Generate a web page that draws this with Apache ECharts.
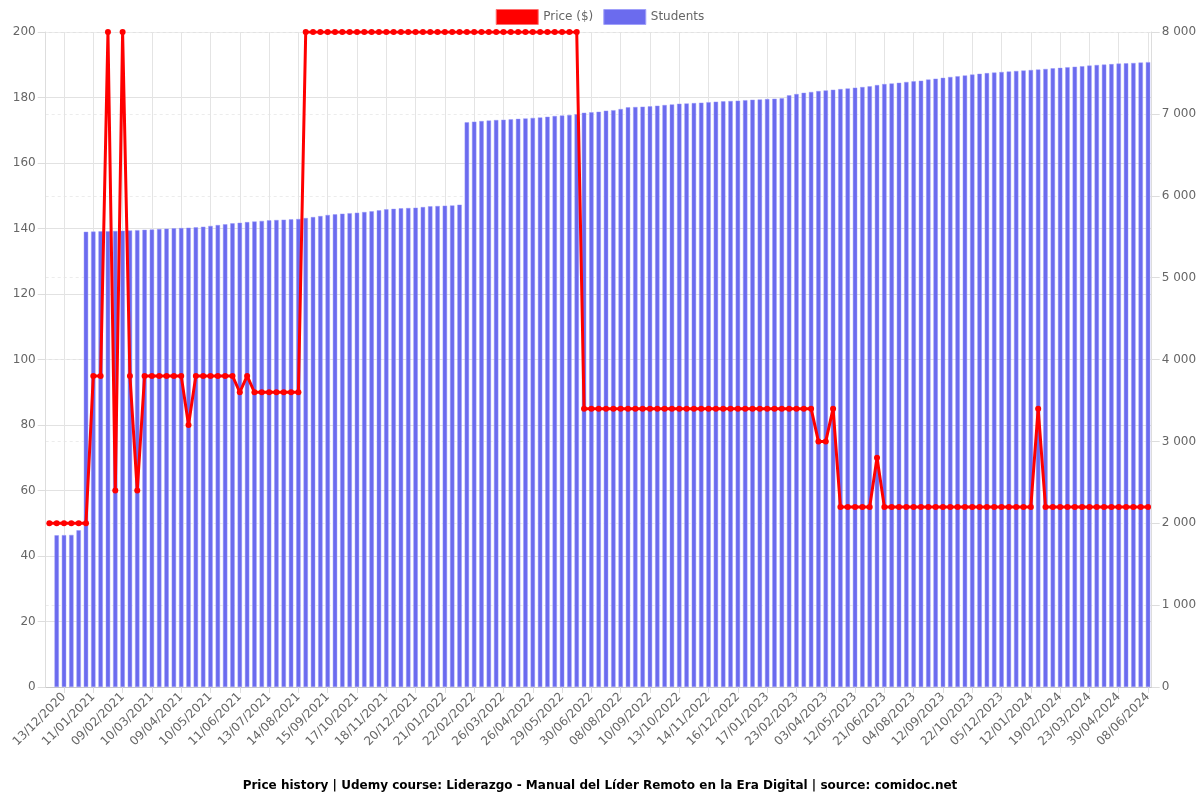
<!DOCTYPE html>
<html>
<head>
<meta charset="utf-8">
<script src="https://cdn.jsdelivr.net/npm/echarts@6/dist/echarts.min.js"></script>
<style>html,body{margin:0;padding:0;background:#fff}#c{width:1200px;height:800px}</style>
</head>
<body>
<div id="c"></div>
<script>
var dates = [
'29/11/2020','06/12/2020',
'13/12/2020','20/12/2020','27/12/2020','03/01/2021',
'11/01/2021','18/01/2021','25/01/2021','01/02/2021',
'09/02/2021','16/02/2021','23/02/2021','02/03/2021',
'10/03/2021','17/03/2021','25/03/2021','01/04/2021',
'09/04/2021','17/04/2021','24/04/2021','02/05/2021',
'10/05/2021','18/05/2021','26/05/2021','03/06/2021',
'11/06/2021','19/06/2021','27/06/2021','05/07/2021',
'13/07/2021','21/07/2021','29/07/2021','06/08/2021',
'14/08/2021','22/08/2021','30/08/2021','07/09/2021',
'15/09/2021','23/09/2021','01/10/2021','09/10/2021',
'17/10/2021','25/10/2021','02/11/2021','10/11/2021',
'18/11/2021','26/11/2021','04/12/2021','12/12/2021',
'20/12/2021','28/12/2021','05/01/2022','13/01/2022',
'21/01/2022','29/01/2022','06/02/2022','14/02/2022',
'22/02/2022','02/03/2022','10/03/2022','18/03/2022',
'26/03/2022','03/04/2022','11/04/2022','18/04/2022',
'26/04/2022','04/05/2022','12/05/2022','21/05/2022',
'29/05/2022','06/06/2022','14/06/2022','22/06/2022',
'30/06/2022','10/07/2022','20/07/2022','29/07/2022',
'08/08/2022','16/08/2022','24/08/2022','02/09/2022',
'10/09/2022','18/09/2022','26/09/2022','05/10/2022',
'13/10/2022','21/10/2022','29/10/2022','06/11/2022',
'14/11/2022','22/11/2022','30/11/2022','08/12/2022',
'16/12/2022','24/12/2022','01/01/2023','09/01/2023',
'17/01/2023','26/01/2023','04/02/2023','14/02/2023',
'23/02/2023','05/03/2023','15/03/2023','24/03/2023',
'03/04/2023','13/04/2023','23/04/2023','02/05/2023',
'12/05/2023','22/05/2023','01/06/2023','11/06/2023',
'21/06/2023','02/07/2023','13/07/2023','24/07/2023',
'04/08/2023','14/08/2023','24/08/2023','02/09/2023',
'12/09/2023','22/09/2023','02/10/2023','12/10/2023',
'22/10/2023','02/11/2023','13/11/2023','24/11/2023',
'05/12/2023','14/12/2023','24/12/2023','02/01/2024',
'12/01/2024','21/01/2024','31/01/2024','09/02/2024',
'19/02/2024','27/02/2024','06/03/2024','15/03/2024',
'23/03/2024','01/04/2024','11/04/2024','20/04/2024',
'30/04/2024','10/05/2024','19/05/2024','29/05/2024',
'08/06/2024'
];

var prices = [
50,50,50,50,50,50,95,95,200,60,
200,95,60,95,95,95,95,95,95,80,
95,95,95,95,95,95,90,95,90,90,
90,90,90,90,90,200,200,200,200,200,
200,200,200,200,200,200,200,200,200,200,
200,200,200,200,200,200,200,200,200,200,
200,200,200,200,200,200,200,200,200,200,
200,200,200,85,85,85,85,85,85,85,
85,85,85,85,85,85,85,85,85,85,
85,85,85,85,85,85,85,85,85,85,
85,85,85,85,85,75,75,85,55,55,
55,55,55,70,55,55,55,55,55,55,
55,55,55,55,55,55,55,55,55,55,
55,55,55,55,55,85,55,55,55,55,
55,55,55,55,55,55,55,55,55,55,
55
];

var students = [
null,1853,1855,1858,1914,5560,5562,5565,5567,5570,
5572,5576,5580,5584,5588,5594,5598,5602,5606,5610,
5614,5622,5632,5642,5652,5663,5670,5678,5686,5693,
5700,5704,5708,5712,5716,5728,5740,5752,5765,5773,
5781,5787,5793,5801,5810,5822,5834,5840,5846,5850,
5854,5862,5871,5875,5879,5882,5891,6897,6905,6913,
6919,6925,6929,6933,6939,6945,6951,6957,6965,6974,
6980,6986,6995,7014,7020,7026,7039,7045,7059,7080,
7084,7088,7092,7100,7108,7116,7124,7128,7132,7137,
7143,7149,7153,7157,7161,7167,7173,7177,7181,7185,
7190,7226,7242,7258,7268,7279,7287,7295,7303,7311,
7320,7328,7336,7352,7364,7372,7380,7390,7397,7405,
7420,7430,7440,7451,7460,7470,7480,7490,7498,7505,
7512,7518,7524,7530,7536,7542,7549,7556,7562,7570,
7576,7582,7590,7597,7602,7608,7614,7618,7622,7627,
7632
];

var priceTicks = [0, 20, 40, 60, 80, 100, 120, 140, 160, 180, 200];
var studentTicks = [0, 1000, 2000, 3000, 4000, 5000, 6000, 7000, 8000];

var titleText = 'Price history | Udemy course: Liderazgo - Manual del Líder Remoto en la Era Digital | source: comidoc.net';

function showIdx(i) { return i % 4 === 2; }
var FONT = 'DejaVu Sans';

var chart = echarts.init(document.getElementById('c'), null, {renderer: 'canvas'});
chart.setOption({
  animation: false,
  backgroundColor: '#fff',
  textStyle: {fontFamily: FONT},
  title: {
    text: titleText,
    left: 'center',
    top: 775,
    textStyle: {fontFamily: FONT, fontSize: 12, fontWeight: 'bold', color: '#000'}
  },
  legend: {
    top: 4,
    left: 'center',
    itemWidth: 42,
    itemHeight: 15,
    itemGap: 10,
    textStyle: {fontFamily: FONT, fontSize: 12, color: '#666'},
    data: [
      {name: 'Price ($)', icon: 'rect', itemStyle: {color: '#ff0000', borderColor: 'rgba(255,110,110,1)', borderWidth: 1}},
      {name: 'Students', icon: 'rect', itemStyle: {color: '#6b6bee', borderColor: 'rgba(160,160,250,1)', borderWidth: 1}}
    ]
  },
  grid: {left: 45.7, right: 48.3, top: 32, bottom: 113, containLabel: false},
  xAxis: {
    type: 'category',
    data: dates,
    boundaryGap: true,
    axisLine: {show: true, lineStyle: {color: '#c8c8c8', width: 1}},
    axisTick: {show: true, alignWithLabel: true, interval: function (i) { return showIdx(i); }, length: 6, lineStyle: {color: '#ddd'}},
    axisLabel: {
      interval: function (i) { return showIdx(i); },
      rotate: 45,
      fontSize: 12,
      color: '#666',
      fontFamily: FONT,
      margin: 8
    },
    splitLine: {show: true, alignWithLabel: true, interval: function (i) { return showIdx(i); }, lineStyle: {color: '#e4e4e4', width: 1}}
  },
  yAxis: [
    {
      type: 'value',
      min: 0, max: 200, interval: 20,
      position: 'left',
      axisLine: {show: true, lineStyle: {color: '#ddd'}},
      axisTick: {show: true, length: 8, lineStyle: {color: '#ddd'}},
      axisLabel: {fontSize: 12, color: '#666', fontFamily: FONT, margin: 10},
      splitLine: {show: true, lineStyle: {color: '#e2e2e2', width: 1}}
    },
    {
      type: 'value',
      min: 0, max: 8000, interval: 1000,
      position: 'right',
      axisLine: {show: true, lineStyle: {color: '#ddd'}},
      axisTick: {show: true, length: 8, lineStyle: {color: '#ddd'}},
      axisLabel: {
        fontSize: 12, color: '#666', fontFamily: FONT, margin: 10,
        formatter: function (v) { return String(v).replace(/\B(?=(\d{3})+(?!\d))/g, ' '); }
      },
      splitLine: {show: true, lineStyle: {color: '#ececec', width: 1, type: [3, 3]}}
    }
  ],
  series: [
    {
      name: 'Students',
      type: 'bar',
      yAxisIndex: 1,
      data: students,
      barWidth: 4.4,
      itemStyle: {color: '#6b6bee', borderColor: 'rgba(150,150,250,0.9)', borderWidth: 0.5},
      z: 2
    },
    {
      name: 'Price ($)',
      type: 'line',
      yAxisIndex: 0,
      data: prices,
      symbol: 'circle',
      symbolSize: 6,
      showSymbol: true,
      showAllSymbol: true,
      lineStyle: {color: '#ff0000', width: 3},
      itemStyle: {color: '#ff0000'},
      z: 3
    }
  ]
});
</script>
</body>
</html>
